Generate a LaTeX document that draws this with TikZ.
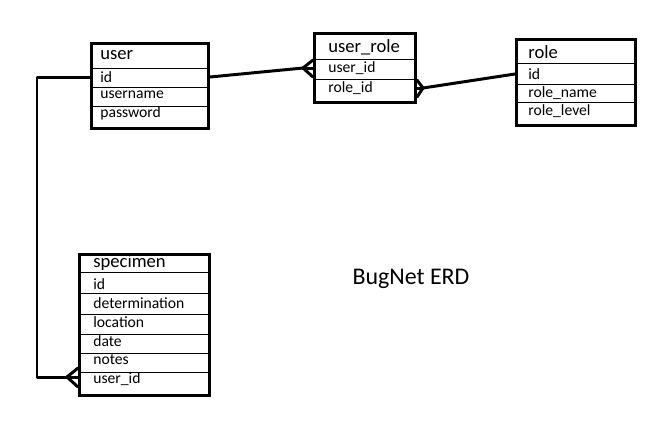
\documentclass[tikz,border=0pt]{standalone}
\usepackage{fontspec}
\setmainfont{Carlito}
\usepackage{tikz}
\usetikzlibrary{calc}
\tikzset{entity/.style={shape=rectangle,draw=black,line width=1.7pt,inner sep=0pt},
  tname/.style={anchor=west,inner sep=0pt,font=\fontsize{10.6}{12}\selectfont},
  field/.style={anchor=west,inner sep=0pt,font=\fontsize{8.9}{10}\selectfont},
  sep/.style={line width=0.5pt},
  link/.style={line width=1.7pt,line cap=round,line join=round}}

\begin{document}
\begin{tikzpicture}[x=0.02cm,y=-0.02cm]
\useasboundingbox (0,0) rectangle (665,424);

%	tables
\node[entity,minimum width=2.34cm,minimum height=1.70cm,anchor=north west] (user) at (90,42) {};
\node[entity,minimum width=2.02cm,minimum height=1.38cm,anchor=north west] (urole) at (313,32) {};
\node[entity,minimum width=2.38cm,minimum height=1.72cm,anchor=north west] (role) at (515,38) {};
\node[entity,minimum width=2.60cm,minimum height=2.82cm,anchor=north west] (spec) at (78,253) {};

\node[tname] (user-t) at (100,55) {user};
\node[tname] (urole-t) at (328,47) {user\_role};
\node[tname] (role-t) at (528,52) {role};
\node[tname] (spec-t) at (93,263) {specimen};

\foreach \y/\t [count=\i] in {77/id,95/username,113/password}
	\node[field] (user-\i) at (100,\y) {\t};
\foreach \y/\t [count=\i] in {68/user\_id,88/role\_id}
	\node[field] (urole-\i) at (328,\y) {\t};
\foreach \y/\t [count=\i] in {74/id,93/role\_name,111/role\_level}
	\node[field] (role-\i) at (528,\y) {\t};
\foreach \y/\t [count=\i] in {284/id,303/determination,322/location,341/date,360/notes,379/user\_id}
	\node[field] (spec-\i) at (93,\y) {\t};

%	row lines
\foreach \y in {68,87,106}
	\draw[sep] (user.west |- 0,\y) -- (user.east |- 0,\y);
\foreach \y in {59,79}
	\draw[sep] (urole.west |- 0,\y) -- (urole.east |- 0,\y);
\foreach \y in {63,84,102}
	\draw[sep] (role.west |- 0,\y) -- (role.east |- 0,\y);
\foreach \y in {272,293,314,334,353,372}
	\draw[sep] (spec.west |- 0,\y) -- (spec.east |- 0,\y);

\node[font=\fontsize{13.6}{16}\selectfont] (erd) at (411,279) {BugNet ERD};

%	relations
\coordinate (cf1) at (303,68);
\coordinate (cf2) at (423,88);
\coordinate (cf3) at (67,377);
\coordinate (bend) at (37,77);

\draw[link] (user.east |- user-1) -- (cf1);
\draw[link] (urole.west |- 0,60) -- (cf1) -- (urole.west |- 0,77);
\draw[link] (cf1) -- (urole.west |- cf1);

\draw[link] (role.west |- role-1) -- (cf2);
\draw[link] (urole.east |- 0,80) -- (cf2) -- (urole.east |- 0,97);
\draw[link] (cf2) -- (urole.east |- cf2);

\draw[link] (user.west |- user-1) -- (bend) -- (bend |- cf3) -- (cf3);
\draw[link] (spec.west |- 0,368) -- (cf3) -- (spec.west |- 0,387);
\draw[link] (cf3) -- (spec.west |- cf3);

\end{tikzpicture}
\end{document}
